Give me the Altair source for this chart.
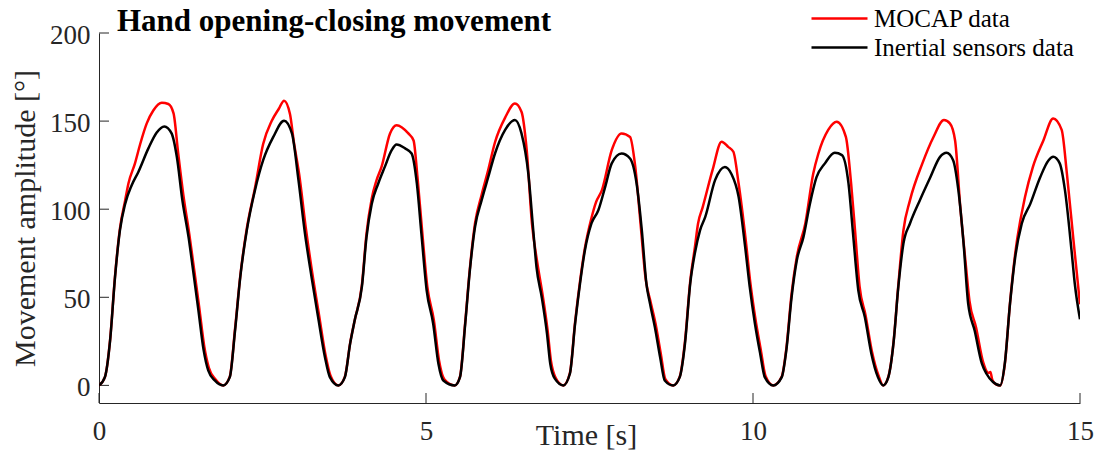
import altair as alt
import pandas as pd

TITLE = "Hand opening-closing movement"
SERIES = ["MOCAP data", "Inertial sensors data"]
COLORS = ["#ff0000", "#000000"]
X_TICKS = [0, 5, 10, 15]
Y_TICKS = [0, 50, 100, 150, 200]
X_TITLE = "Time [s]"
Y_TITLE = "Movement amplitude [°]"

# Inertial sensors data (black)
t_imu = [
    0, 0.09, 0.17, 0.245, 0.32, 0.40, 0.50, 0.60, 0.755, 0.88,
    1.0, 1.11, 1.19, 1.275, 1.37, 1.44, 1.52, 1.60, 1.67, 1.77,
    1.90, 2.0, 2.08, 2.16, 2.26, 2.385, 2.51, 2.665, 2.83, 2.95,
    3.05, 3.15, 3.25, 3.35, 3.455, 3.53, 3.66, 3.76, 3.84, 3.91,
    4.02, 4.09, 4.17, 4.27, 4.37, 4.475, 4.55, 4.68, 4.78, 4.86,
    4.93, 5.01, 5.11, 5.19, 5.265, 5.44, 5.52, 5.60, 5.67, 5.75,
    5.85, 5.95, 6.055, 6.21, 6.36, 6.46, 6.565, 6.64, 6.69, 6.77,
    6.85, 6.90, 6.97, 7.10, 7.20, 7.28, 7.355, 7.43, 7.53, 7.635,
    7.74, 7.84, 7.99, 8.12, 8.22, 8.30, 8.37, 8.425, 8.50, 8.58,
    8.65, 8.78, 8.88, 8.96, 9.04, 9.11, 9.19, 9.27, 9.42, 9.57,
    9.67, 9.78, 9.88, 9.95, 10.03, 10.11, 10.18, 10.31, 10.44, 10.51,
    10.59, 10.67, 10.77, 10.87, 10.97, 11.10, 11.25, 11.36, 11.46, 11.53,
    11.61, 11.71, 11.81, 11.91, 11.99, 12.07, 12.15, 12.22, 12.30, 12.40,
    12.55, 12.71, 12.86, 12.96, 13.06, 13.14, 13.22, 13.29, 13.39, 13.50,
    13.57, 13.67, 13.78, 13.85, 13.93, 14.01, 14.11, 14.24, 14.39, 14.52,
    14.59, 14.69, 14.77, 14.87, 14.92, 15.0,
]
v_imu = [
    0, 4.7, 25.6, 61.5, 88, 103, 113.6, 121, 134.5, 143.4,
    147, 143, 129.7, 105, 84, 65, 42.6, 20, 8.5, 2.8,
    0, 4.7, 31, 61.5, 88, 110.8, 127.8, 141, 150.2, 143,
    116.5, 86, 61.5, 38.8, 16, 4.7, 0, 4.7, 23.7, 37,
    56, 84, 103, 114.6, 124, 133.5, 136.7, 134.5, 131.6, 114.6,
    86, 54, 35, 12.3, 2.8, 0, 4.7, 35, 65, 90,
    105, 118, 131.6, 145, 150.6, 143, 120, 88, 67, 50,
    29.4, 12.3, 3.8, 0, 6.6, 35, 57.8, 76.7, 91.9, 99.4,
    112.7, 126, 131.6, 128.8, 114.6, 88, 57.8, 46.4, 33, 16,
    2.8, 0, 4.7, 23.7, 57.8, 74.8, 88, 95.6, 116.5, 124,
    120, 107, 78.6, 55.9, 35, 18, 4.7, 0, 4.7, 20,
    50, 71, 84, 103, 118, 126, 132, 130.7, 114.6, 86,
    54, 38.8, 18, 4.7, 0, 4.7, 24.5, 55, 80.5, 91.9,
    105, 118, 129.7, 132, 127.8, 110.8, 80.5, 46.4, 31, 12.3,
    6.6, 1.9, 0, 12.3, 46.4, 73, 91.9, 103, 118, 127.8,
    129.7, 126, 110.8, 76.7, 57.8, 37.5,
]

# MOCAP data (red)
t_mocap = [
    0, 0.09, 0.17, 0.245, 0.32, 0.40, 0.45, 0.55, 0.63, 0.73,
    0.83, 0.96, 1.06, 1.14, 1.21, 1.29, 1.38, 1.45, 1.53, 1.61,
    1.68, 1.78, 1.90, 2.0, 2.08, 2.16, 2.26, 2.385, 2.51, 2.64,
    2.75, 2.83, 2.92, 2.98, 3.06, 3.16, 3.26, 3.36, 3.46, 3.54,
    3.66, 3.76, 3.84, 3.91, 4.02, 4.09, 4.17, 4.24, 4.32, 4.45,
    4.55, 4.73, 4.81, 4.87, 4.94, 5.02, 5.12, 5.20, 5.28, 5.44,
    5.52, 5.60, 5.67, 5.75, 5.85, 5.95, 6.055, 6.21, 6.36, 6.46,
    6.54, 6.62, 6.70, 6.78, 6.86, 6.91, 6.98, 7.10, 7.20, 7.28,
    7.355, 7.43, 7.53, 7.60, 7.69, 7.84, 7.99, 8.12, 8.20, 8.28,
    8.36, 8.43, 8.51, 8.59, 8.66, 8.78, 8.88, 8.96, 9.04, 9.11,
    9.16, 9.23, 9.38, 9.52, 9.62, 9.70, 9.78, 9.89, 9.96, 10.04,
    10.12, 10.19, 10.31, 10.44, 10.51, 10.59, 10.67, 10.80, 10.92, 11.0,
    11.15, 11.28, 11.42, 11.50, 11.56, 11.63, 11.72, 11.82, 11.92, 11.99,
    12.07, 12.15, 12.22, 12.30, 12.40, 12.59, 12.76, 12.92, 13.01, 13.09,
    13.17, 13.25, 13.31, 13.41, 13.52, 13.60, 13.63, 13.66, 13.72, 13.78,
    13.85, 13.93, 14.01, 14.16, 14.28, 14.44, 14.59, 14.72, 14.80, 14.90,
    15.0,
]
v_mocap = [
    0, 4.7, 26, 62, 89, 105, 114.6, 126, 137, 148.7,
    156, 160.4, 159.7, 154.4, 132, 108, 86, 67, 45, 22,
    10, 3.5, 0, 5, 32, 62, 89, 112, 137, 150,
    157, 161.6, 154, 138, 120, 90, 64, 41, 18, 5.5,
    0, 5, 24, 37, 57, 86, 106, 116, 124, 143,
    147.7, 143, 139, 118, 88, 56, 37, 14, 3.5, 0,
    5, 36, 66, 92, 108, 122, 138, 152, 160, 155.3,
    133.5, 92, 70, 52, 31, 14, 4.5, 0, 7, 36,
    59, 78, 95, 104, 110.8, 133.5, 143, 141, 124, 92,
    60, 48, 35, 18, 3.5, 0, 5, 25, 59, 78,
    91.9, 101, 122, 138.3, 135.4, 132.6, 114.6, 82, 58, 37,
    20, 5.5, 0, 5, 21, 52, 73, 91.9, 120, 131.6,
    145, 149.6, 141, 114.6, 88, 56, 40, 19, 5.5, 0,
    5, 25, 56, 88, 105, 126, 141, 150.6, 148.7, 139,
    101, 70, 48, 33, 13, 7, 7.6, 3, 0.5, 0,
    12, 47, 75, 107, 124, 139, 151.5, 145, 120, 82.4,
    46,
]

FONT = "Liberation Serif"
AXIS_COLOR = "#262626"

df_mocap = pd.DataFrame({"t": t_mocap, "v": v_mocap, "s": SERIES[0]})
df_imu = pd.DataFrame({"t": t_imu, "v": v_imu, "s": SERIES[1]})

x_scale = alt.Scale(domain=[0, 15], nice=False, zero=False)
y_scale = alt.Scale(domain=[-10, 200], nice=False, zero=False)

X_AXIS = alt.Axis(
    values=X_TICKS, title=X_TITLE, grid=False, ticks=False, tickSize=0,
    domainColor=AXIS_COLOR, domainWidth=1,
    labelFont=FONT, labelFontSize=27, labelColor=AXIS_COLOR,
    labelBaseline="alphabetic", labelPadding=36, labelFlush=False,
    titleFont=FONT, titleFontSize=30, titleFontWeight="normal", titleColor=AXIS_COLOR,
    titleBaseline="alphabetic", titleX=487, titleY=41, titleAlign="center",
)
Y_AXIS = alt.Axis(
    values=Y_TICKS, title=Y_TITLE, grid=False, ticks=False, tickSize=0,
    domainColor=AXIS_COLOR, domainWidth=1,
    labelFont=FONT, labelFontSize=27, labelColor=AXIS_COLOR,
    labelBaseline="middle", labelPadding=9, labelOffset=2, labelFlush=False,
    titleFont=FONT, titleFontSize=30, titleFontWeight="normal", titleColor=AXIS_COLOR,
    titleAngle=270, titleBaseline="alphabetic", titleAlign="center",
    titleX=-65, titleY=185,
)

# legend symbol: a horizontal stroke twice as long as the symbol cell
color = alt.Color(
    "s:N",
    scale=alt.Scale(domain=SERIES, range=COLORS),
    legend=alt.Legend(
        title=None, orient="none", legendX=725, legendY=-30,
        symbolType="M-2,0H2", symbolSize=784, symbolStrokeWidth=2.5,
        labelFont=FONT, labelFontSize=25, labelColor="#000000", labelLimit=0,
        labelOffset=19, rowPadding=0, padding=0,
    ),
)


def line_layer(df):
    return alt.Chart(df).mark_line(interpolate="monotone", strokeWidth=2.5, clip=True).encode(
        x=alt.X("t:Q", scale=x_scale, axis=X_AXIS),
        y=alt.Y("v:Q", scale=y_scale, axis=Y_AXIS),
        color=color,
    )


red = line_layer(df_mocap)
black = line_layer(df_imu)

y_ticks = alt.Chart(pd.DataFrame({"v": Y_TICKS})).mark_rule(color=AXIS_COLOR, strokeWidth=1).encode(
    y=alt.Y("v:Q", scale=y_scale, axis=Y_AXIS),
    x=alt.value(0),
    x2=alt.value(10),
)
x_ticks = alt.Chart(pd.DataFrame({"t": X_TICKS})).mark_rule(color=AXIS_COLOR, strokeWidth=1).encode(
    x=alt.X("t:Q", scale=x_scale, axis=X_AXIS),
    y=alt.value(370),
    y2=alt.value(360),
)

title = alt.Chart(pd.DataFrame({"label": [TITLE]})).mark_text(
    align="left", baseline="alphabetic", font=FONT, fontSize=31,
    fontWeight="bold", color="#000000",
).encode(x=alt.value(18), y=alt.value(-2), text="label:N")

chart = alt.layer(y_ticks, x_ticks, red, black, title).properties(
    width=981, height=370,
    autosize=alt.AutoSizeParams(type="none"),
    padding={"left": 99, "top": 33, "right": 17, "bottom": 49},
    background="white",
).configure_view(stroke=None)

chart.save("out.html", embed_options={"renderer": "svg", "actions": False})
